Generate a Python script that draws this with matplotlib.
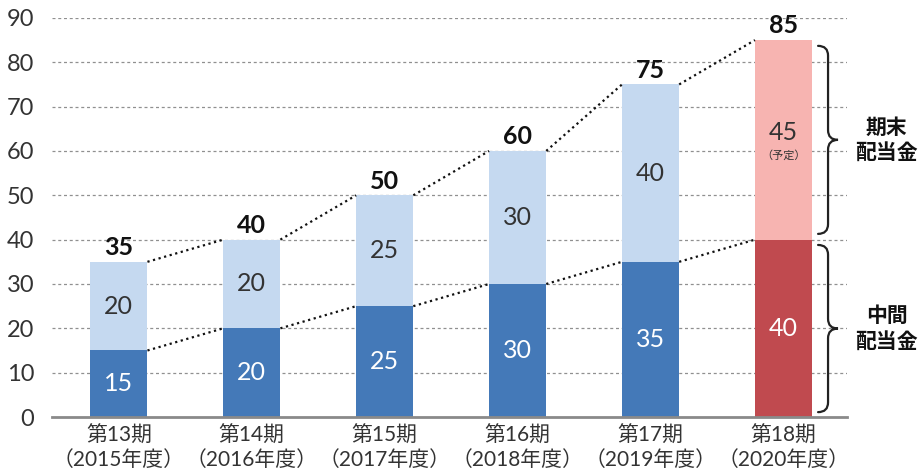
import matplotlib
matplotlib.use("Agg")
import matplotlib.pyplot as plt
import numpy as np
from matplotlib.path import Path
from matplotlib.patches import PathPatch

plt.rcParams["font.family"] = ["Noto Sans CJK JP", "DejaVu Sans"]
NUM_FONT = ["Lato", "Noto Sans CJK JP", "DejaVu Sans"]     # wider digits, like the source

# data
periods = ["第13期", "第14期", "第15期", "第16期", "第17期", "第18期"]
years = ["2015年度", "2016年度", "2017年度", "2018年度", "2019年度", "2020年度"]
interim = [15, 20, 25, 30, 35, 40]
year_end = [20, 20, 25, 30, 40, 45]
yticks = [0, 10, 20, 30, 40, 50, 60, 70, 80, 90]

C_LO = "#4479b8"
C_HI = "#c5d9f0"
C_LO_LAST = "#c04a4f"
C_HI_LAST = "#f7b4b1"
W = 0.43


def brace(ax, x0, x1, x2, ytop, ybot, r=2.2):
    """vertical right-facing curly brace drawn in data coords"""
    ymid = (ytop + ybot) / 2
    verts = [(x0, ytop), (x1, ytop), (x1, ytop - r),
             (x1, ymid + r), (x1, ymid), (x2, ymid),
             (x1, ymid), (x1, ymid - r),
             (x1, ybot + r), (x1, ybot), (x0, ybot)]
    codes = [Path.MOVETO, Path.CURVE3, Path.CURVE3,
             Path.LINETO, Path.CURVE3, Path.CURVE3,
             Path.CURVE3, Path.CURVE3,
             Path.LINETO, Path.CURVE3, Path.CURVE3]
    ax.add_patch(PathPatch(Path(verts, codes), fill=False, lw=1.6,
                           color="#222222", clip_on=False, capstyle="round"))


fig = plt.figure(figsize=(9.19, 4.72), dpi=100)
ax = fig.add_axes([0.057, 0.1165, 0.865, 0.8455])

x = np.arange(len(periods))
lo_c = [C_LO] * 5 + [C_LO_LAST]
hi_c = [C_HI] * 5 + [C_HI_LAST]
totals = [a + b for a, b in zip(interim, year_end)]

for y in yticks[1:]:
    ax.axhline(y, color="#909090", lw=0.9, ls=(0, (2.4, 2.2)), zorder=0)

ax.bar(x, interim, W, color=lo_c, zorder=2)
ax.bar(x, year_end, W, bottom=interim, color=hi_c, zorder=2)

# dotted connectors between neighbouring bars
for i in range(len(x) - 1):
    for ys in (interim, totals):
        ax.plot([x[i] + W / 2, x[i + 1] - W / 2], [ys[i], ys[i + 1]],
                color="#111111", lw=1.6, ls=(0, (1, 1.6)), zorder=3)

for i in range(len(x)):
    ax.text(x[i], interim[i] / 2, str(interim[i]), ha="center", va="center",
            color="white", fontsize=18, family=NUM_FONT, zorder=4)
    yy = interim[i] + year_end[i] / 2
    if i == len(x) - 1:
        ax.text(x[i], yy + 1.6, str(year_end[i]), ha="center", va="center",
                color="#333333", fontsize=18, family=NUM_FONT, zorder=4)
        ax.text(x[i], yy - 3.6, "（予定）", ha="center", va="center",
                color="#333333", fontsize=8, zorder=4)
    else:
        ax.text(x[i], yy, str(year_end[i]), ha="center", va="center",
                color="#333333", fontsize=18, family=NUM_FONT, zorder=4)
    ax.text(x[i], totals[i] + 0.6, str(totals[i]), ha="center", va="bottom",
            color="#111111", fontsize=18, family=NUM_FONT, fontweight="bold", zorder=4)

brace(ax, 5.26, 5.335, 5.41, 83.7, 41.3)
brace(ax, 5.26, 5.335, 5.41, 38.8, 1.1)
ax.text(5.775, 62.5, "期末\n配当金", ha="center", va="center", fontsize=15,
        fontweight="bold", color="#111111", linespacing=1.25, clip_on=False)
ax.text(5.775, 20, "中間\n配当金", ha="center", va="center", fontsize=15,
        fontweight="bold", color="#111111", linespacing=1.25, clip_on=False)

ax.set_xlim(-0.5, 5.48)
ax.set_ylim(0, 90)
ax.set_yticks(yticks)
ax.set_xticks(x)
ax.set_xticklabels([f"{p}\n（{y}）" for p, y in zip(periods, years)],
                   fontsize=15, color="#333333", linespacing=1.3)
for lab in ax.get_yticklabels() + ax.get_xticklabels():
    lab.set_family(NUM_FONT)
ax.tick_params(axis="y", length=0, pad=13, labelsize=17, labelcolor="#333333")
ax.tick_params(axis="x", length=0, pad=6)
for s in ("left", "right", "top"):
    ax.spines[s].set_visible(False)
ax.spines["bottom"].set_color("#8a8a8a")
ax.spines["bottom"].set_linewidth(2)
ax.spines["bottom"].set_zorder(5)

fig.savefig("out.png", dpi=100)
